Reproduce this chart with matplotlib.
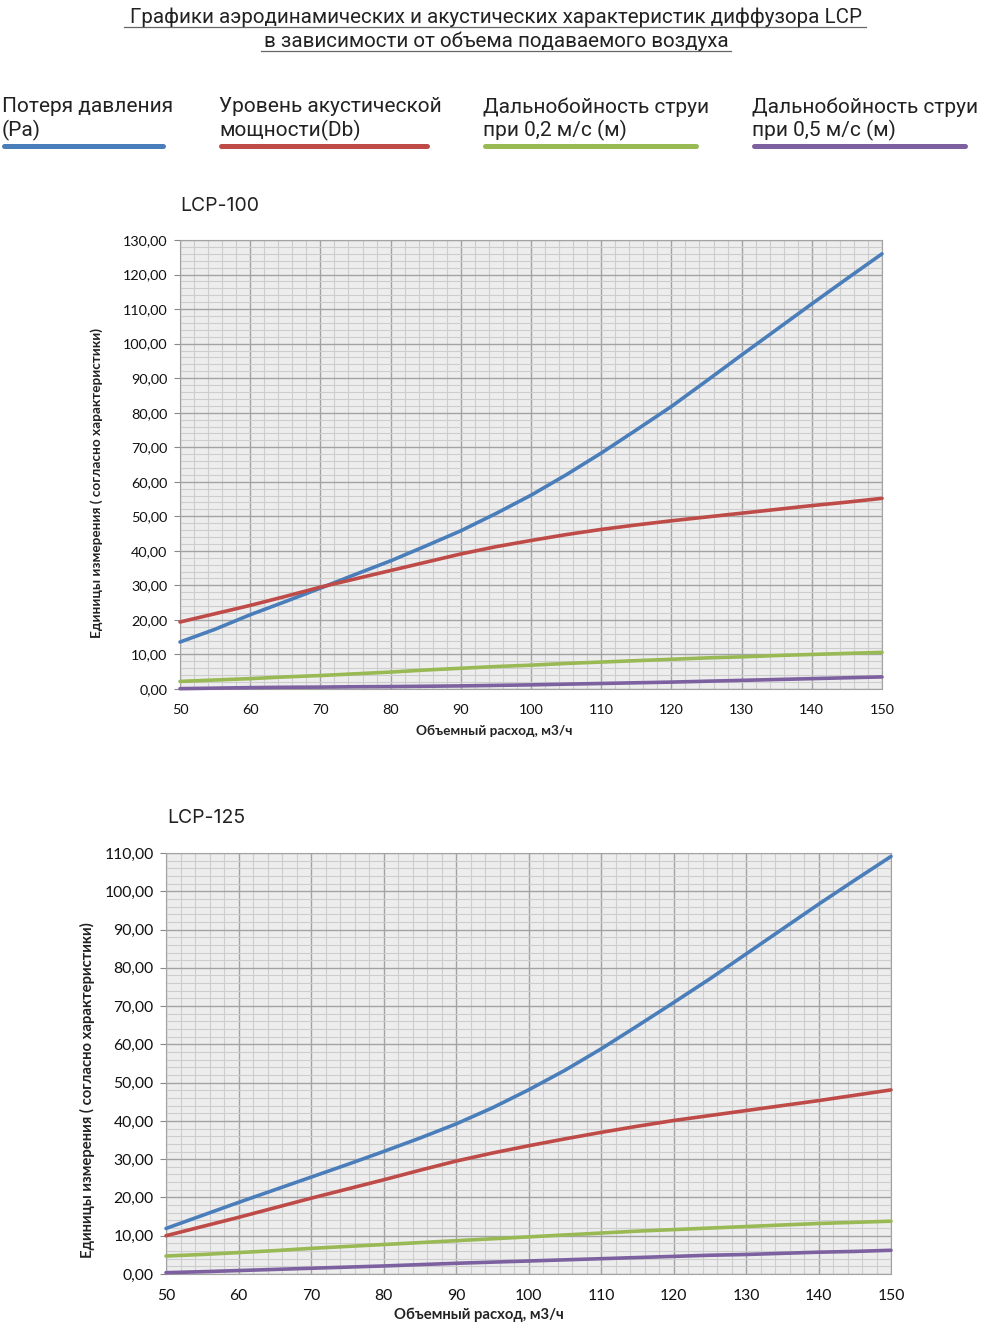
import numpy as np
import matplotlib.pyplot as plt
from matplotlib.ticker import MultipleLocator, FuncFormatter
from matplotlib.lines import Line2D

# flow rate, m3/h
flow = [50, 55, 60, 65, 70, 75, 80, 85, 90, 95, 100,
        105, 110, 115, 120, 125, 130, 135, 140, 145, 150]

# LCP-100
lcp100_pressure = [13.6, 17.3, 21.5, 25.3, 29.2, 33.2, 37.1, 41.4, 45.8, 50.8, 56.1,
                   62.0, 68.3, 75.0, 81.8, 89.2, 96.7, 104.1, 111.5, 118.8, 126.0]
lcp100_noise = [19.4, 21.8, 24.2, 26.8, 29.5, 31.9, 34.3, 36.7, 39.1, 41.2, 43.0,
                44.7, 46.2, 47.5, 48.7, 49.8, 50.9, 52.0, 53.1, 54.1, 55.2]
lcp100_throw02 = [2.2, 2.6, 3.0, 3.5, 3.9, 4.4, 4.9, 5.5, 6.0, 6.5, 6.9,
                  7.4, 7.8, 8.2, 8.6, 9.0, 9.3, 9.7, 10.0, 10.3, 10.6]
lcp100_throw05 = [0.1, 0.25, 0.4, 0.5, 0.55, 0.65, 0.7, 0.8, 0.9, 1.05, 1.2,
                  1.4, 1.6, 1.8, 2.0, 2.25, 2.5, 2.75, 3.0, 3.25, 3.5]

# LCP-125
lcp125_pressure = [11.9, 15.3, 18.7, 22.0, 25.3, 28.6, 32.0, 35.5, 39.2, 43.4, 48.1,
                   53.2, 58.8, 64.8, 70.9, 77.1, 83.6, 90.1, 96.6, 102.9, 109.1]
lcp125_noise = [10.0, 12.4, 14.8, 17.3, 19.8, 22.2, 24.6, 27.1, 29.5, 31.6, 33.5,
                35.3, 37.0, 38.6, 40.1, 41.4, 42.7, 44.0, 45.3, 46.7, 48.1]
lcp125_throw02 = [4.7, 5.1, 5.6, 6.1, 6.7, 7.2, 7.7, 8.2, 8.7, 9.2, 9.7,
                  10.2, 10.7, 11.2, 11.6, 12.0, 12.4, 12.8, 13.2, 13.5, 13.8]
lcp125_throw05 = [0.35, 0.6, 0.9, 1.2, 1.5, 1.8, 2.1, 2.45, 2.8, 3.1, 3.4,
                  3.7, 4.0, 4.3, 4.6, 4.9, 5.1, 5.4, 5.7, 5.9, 6.2]

legend_labels = ["Потеря давления\n(Pa)", "Уровень акустической\nмощности(Db)",
                 "Дальнобойность струи\nпри 0,2 м/с (м)", "Дальнобойность струи\nпри 0,5 м/с (м)"]
colors = ["#4A7EBB", "#BE4B48", "#98B954", "#7D60A0"]

W, H = 992, 1329
fig = plt.figure(figsize=(W / 100, H / 100), dpi=100)
fig.patch.set_facecolor("white")

def fx(px):
    return px / W

def fy(py):
    return 1 - py / H

# header, underlined
head = ["Графики аэродинамических и акустических характеристик диффузора LCP",
        "в зависимости от объема подаваемого воздуха"]
for line, ypx, x0, x1 in [(head[0], 17, 124, 866), (head[1], 41, 261, 731)]:
    fig.text(0.5, fy(ypx), line, ha="center", va="center", fontsize=14.8,
             family="Roboto", color="#222222")
    fig.add_artist(Line2D([fx(x0), fx(x1)], [fy(ypx + 10), fy(ypx + 10)],
                          color="#666666", lw=0.9))

# legend
leg_x = [(2, 165), (219, 429), (483, 698), (752, 967)]
for lab, c, (x0, x1) in zip(legend_labels, colors, leg_x):
    fig.text(fx(x0), fy(119), lab, ha="left", va="center", fontsize=15,
             family="Roboto", color="#222222", linespacing=1.2)
    fig.add_artist(Line2D([fx(x0 + 2), fx(x1 - 2)], [fy(146), fy(146)],
                          color=c, lw=3.6, solid_capstyle="round"))

fmt = FuncFormatter(lambda v, p: f"{v:.2f}".replace(".", ","))

def draw(rect, series, ymax, title, title_xy, ylab_xy, xlab_xy, fs):
    l, r, t, b = rect
    ax = fig.add_axes([fx(l), fy(b), fx(r) - fx(l), fy(t) - fy(b)])
    ax.set_facecolor("#EDEDED")
    ax.set_xlim(50, 150)
    ax.set_ylim(0, ymax)
    ax.xaxis.set_major_locator(MultipleLocator(10))
    ax.xaxis.set_minor_locator(MultipleLocator(2))
    ax.yaxis.set_major_locator(MultipleLocator(10))
    ax.yaxis.set_minor_locator(MultipleLocator(2))
    ax.yaxis.set_major_formatter(fmt)
    ax.grid(which="major", color="#A3A3A3", lw=1.0)
    ax.grid(which="minor", color="#CDCDCD", lw=0.8)
    ax.set_axisbelow(True)
    for s in ax.spines.values():
        s.set_color("#A3A3A3")
    ax.tick_params(which="both", length=0, labelsize=fs, colors="#111111")
    ax.tick_params(axis="x", pad=11)
    ax.tick_params(axis="y", which="major", length=4, color="#888888", pad=5)
    for lbl in ax.get_xticklabels() + ax.get_yticklabels():
        lbl.set_family("Lato")
    for ys, c in zip(series, colors):
        ax.plot(flow, ys, color=c, lw=2.6, solid_capstyle="round", clip_on=False, zorder=3)
    fig.text(fx(title_xy[0]), fy(title_xy[1]), title, ha="left", va="center",
             fontsize=14, family="Inter", color="#222222")
    fig.text(fx(ylab_xy[0]), fy(ylab_xy[1]), "Единицы измерения ( согласно характеристики)",
             rotation=90, ha="center", va="center", fontsize=fs - 0.6, family="Lato",
             weight="bold", color="#222222")
    fig.text(fx(xlab_xy[0]), fy(xlab_xy[1]), "Объемный расход, м3/ч",
             ha="center", va="center", fontsize=fs - 0.6, family="Lato",
             weight="bold", color="#222222")

draw((180, 882, 240, 689),
     [lcp100_pressure, lcp100_noise, lcp100_throw02, lcp100_throw05],
     130, "LCP-100", (180, 206), (97, 483), (494, 731), 10.4)
draw((166, 891, 853, 1274),
     [lcp125_pressure, lcp125_noise, lcp125_throw02, lcp125_throw05],
     110, "LCP-125", (167, 818), (87, 1090), (479, 1315), 11.3)

fig.savefig("out.png", dpi=100, facecolor="white")
